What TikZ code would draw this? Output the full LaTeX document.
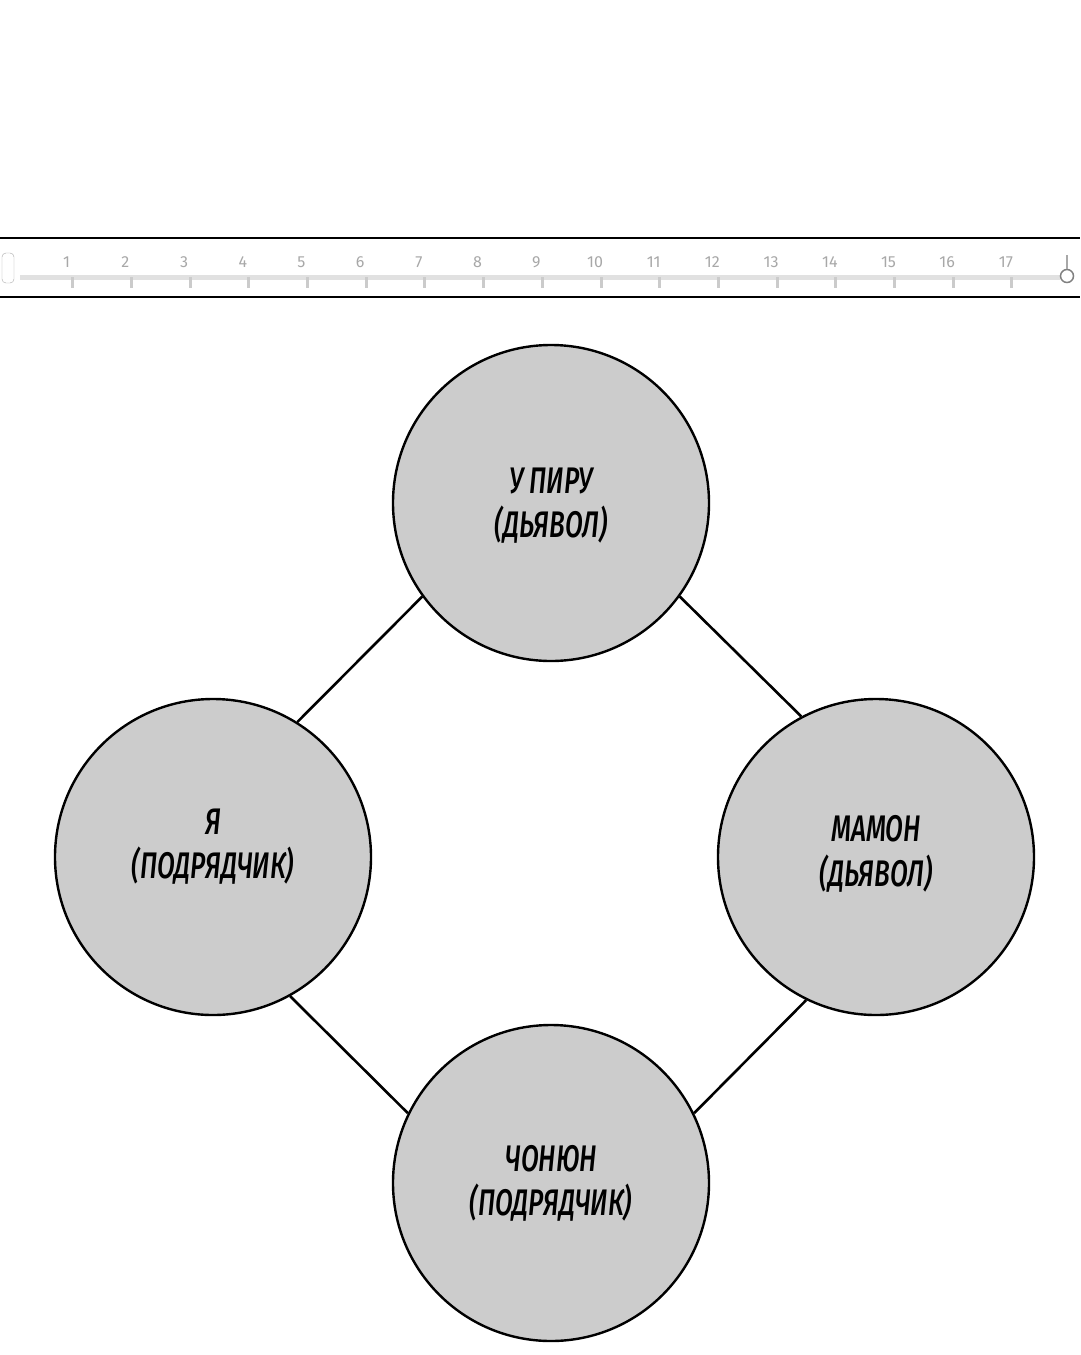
\documentclass[tikz,border=0pt]{standalone}
\usepackage{fontspec}
\setmainfont{Fira Sans}
\newfontfamily\comicfont{Fira Sans}[UprightFont=* Medium Italic, FakeStretch=0.70]
% #1: vertical offset of the two-line label below the circle centre
\newcommand\roletext[3]{\raisebox{-#1}{\smash{\begin{tabular}[b]{@{}c@{}}#2\\#3\end{tabular}}}}
\begin{document}
\begin{tikzpicture}[x=1pt,y=-1pt,
  role/.style={circle,draw=black,line width=2.4pt,fill=circlegray,minimum size=316pt,inner sep=0pt,
    font=\comicfont\fontsize{37}{43}\selectfont},
  link/.style={draw=black,line width=2.6pt},
  rulerline/.style={draw=black,line width=2.8pt},
  rulernum/.style={text=rulergray,font=\fontsize{16}{16}\selectfont,inner sep=0pt}]
\definecolor{circlegray}{HTML}{CCCCCC}
\definecolor{rulergray}{HTML}{A8A8A8}
\useasboundingbox (0,0) rectangle (1080,1355);
\fill[white] (0,0) rectangle (1080,1355);
% ruler
\draw[rulerline] (0,238) -- (1080,238);
\draw[rulerline] (0,297) -- (1080,297);
\draw[rulergray!35,line width=5pt] (20,277) -- (1060,277);
\foreach \i in {1,...,17}{
  \pgfmathsetmacro\xx{8+\i*58.7}
  \node[rulernum] (n\i) at (\xx,262) {\i};
  \draw[rulergray!60,line width=3pt] (\xx+6,277) -- (\xx+6,288);
}
\node[rulernum,draw=rulergray,rounded corners=4pt,minimum width=12pt,minimum height=30pt] (n0) at (8,268) {};
\node[rulernum,draw=gray,line width=1.5pt,circle,minimum size=13pt] (n18) at (1067,276) {};
\draw[rulergray,line width=2pt] (n18.north) -- ++(0,-14);
% circles
\node[role] (top) at (551,503) {\roletext{69pt}{У ПИРУ}{(ДЬЯВОЛ)}};
\node[role] (left) at (213,857) {\roletext{43pt}{Я}{(ПОДРЯДЧИК)}};
\node[role] (right) at (876,857) {\roletext{58pt}{МАМОН}{(ДЬЯВОЛ)}};
\node[role] (bottom) at (551,1183) {\roletext{65pt}{ЧОНЮН}{(ПОДРЯДЧИК)}};
% connectors
\draw[link] (top.216) -- (left.58);
\draw[link] (top.324) -- (right.118);
\draw[link] (left.299) -- (bottom.154);
\draw[link] (right.244) -- (bottom.26);
\end{tikzpicture}
\end{document}
